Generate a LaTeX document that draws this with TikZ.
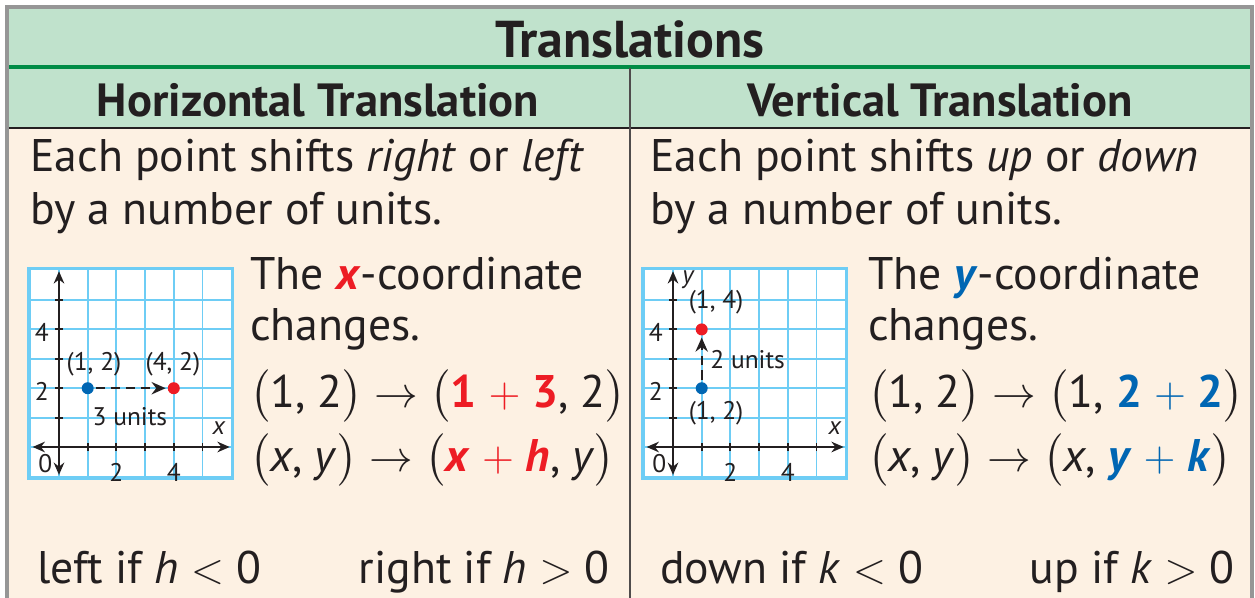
\documentclass[tikz,border=0pt]{standalone}
\usepackage{amsmath}
\usepackage{fontspec}
\setmainfont{PT Sans}
\usepackage{tikz}
\usetikzlibrary{arrows.meta}
\definecolor{headgreen}{RGB}{192, 226, 204}
\definecolor{rulegreen}{RGB}{0, 140, 70}
\definecolor{bodypeach}{RGB}{253, 241, 227}
\definecolor{gridblue}{RGB}{110, 205, 245}
\definecolor{inkdark}{RGB}{35, 31, 32}
\definecolor{shiftred}{RGB}{237, 28, 36}
\definecolor{shiftblue}{RGB}{0, 102, 179}
\definecolor{framegray}{RGB}{150, 150, 150}

\tikzset{
  headtext/.style={inner sep=0pt, text=inkdark, font=\bfseries\fontsize{26.5}{30}\selectfont},
  bodytext/.style={anchor=base west, inner sep=0pt, text=inkdark, font=\fontsize{26}{30}\selectfont},
  ticklabel/.style={inner sep=0pt, text=inkdark, font=\fontsize{14.5}{17}\selectfont},
  axislabel/.style={ticklabel, font=\itshape\fontsize{14.5}{17}\selectfont},
  gridline/.style={gridblue, line width=1.1pt},
  gridframe/.style={gridblue, line width=2pt},
  axisline/.style={inkdark, line width=1.3pt, {Stealth[length=7pt,width=6pt]}-{Stealth[length=7pt,width=6pt]}},
  shiftarrow/.style={inkdark, line width=1.3pt, dash pattern=on 5.5pt off 3pt, -{Stealth[length=8pt,width=7pt]}, shorten <=1pt, shorten >=1pt},
  dot/.style={circle, inner sep=0pt, minimum size=0.24cm, fill=#1}
}

\begin{document}
\begin{tikzpicture}[x=0.02cm, y=-0.02cm]
  \useasboundingbox (0,0) rectangle (1255,598);
  % table background and rules
  \fill[headgreen] (7,7) rectangle (1252,128);
  \fill[bodypeach] (7,128) rectangle (1252,598);
  \draw[rulegreen, line width=1.8pt] (7,67) -- (1252,67);
  \draw[inkdark, line width=1.6pt] (7,128) -- (1252,128);
  \draw[inkdark!80, line width=1.1pt] (630,68) -- (630,598);
  \draw[framegray, line width=1.8pt] (7,598) -- (7,7) -- (1252,7) -- (1252,598);

  % headings
  \node[headtext, font=\bfseries\fontsize{29.5}{33}\selectfont] (title) at (630,39) {Translations};
  \node[headtext] (hhead) at (318,100) {Horizontal Translation};
  \node[headtext] (vhead) at (940,100) {Vertical Translation};

  % horizontal column
  \node[bodytext] (hsay1) at (30,172) {Each point shifts \textit{right} or \textit{left}};
  \node[bodytext] (hsay2) at (30,224) {by a number of units.};
  \node[bodytext] (hnote1) at (250,289) {The \textcolor{shiftred}{\textbf{\textit{x}}}-coordinate};
  \node[bodytext] (hnote2) at (250,340) {changes.};
  \node[bodytext] (hrule1) at (250,407)
    {$\bigl($1, 2$\bigr)$ $\rightarrow$ $\bigl($\textcolor{shiftred}{\textbf{1} $+$ \textbf{3}}, 2$\bigr)$};
  \node[bodytext] (hrule2) at (250,471)
    {$\bigl($\textit{x}, \textit{y}$\bigr)$ $\rightarrow$ $\bigl($\textcolor{shiftred}{\textbf{\textit{x}} $+$ \textbf{\textit{h}}}, \textit{y}$\bigr)$};
  \node[bodytext] (hleft) at (37,583) {left if \textit{h} $<$ 0};
  \node[bodytext, anchor=base east] (hright) at (610,583) {right if \textit{h} $>$ 0};

  % vertical column
  \node[bodytext] (vsay1) at (650,172) {Each point shifts \textit{up} or \textit{down}};
  \node[bodytext] (vsay2) at (650,224) {by a number of units.};
  \node[bodytext] (vnote1) at (868,289) {The \textcolor{shiftblue}{\textbf{\textit{y}}}-coordinate};
  \node[bodytext] (vnote2) at (868,340) {changes.};
  \node[bodytext] (vrule1) at (868,407)
    {$\bigl($1, 2$\bigr)$ $\rightarrow$ $\bigl($1, \textcolor{shiftblue}{\textbf{2} $+$ \textbf{2}}$\bigr)$};
  \node[bodytext] (vrule2) at (868,471)
    {$\bigl($\textit{x}, \textit{y}$\bigr)$ $\rightarrow$ $\bigl($\textit{x}, \textcolor{shiftblue}{\textbf{\textit{y}} $+$ \textbf{\textit{k}}}$\bigr)$};
  \node[bodytext] (vdown) at (660,583) {down if \textit{k} $<$ 0};
  \node[bodytext, anchor=base east] (vup) at (1235,583) {up if \textit{k} $>$ 0};

  % graph of the horizontal shift
  \begin{scope}[shift={(59,447)}, x=0.574cm, y=0.588cm]
    \fill[white] (-1.05,-1.05) rectangle (6.05,6.08);
    \foreach \i in {0,...,5} \draw[gridline] (\i,-1.05) -- (\i,6.08);
    \foreach \i in {0,...,5} \draw[gridline] (-1.05,\i) -- (6.05,\i);
    \draw[gridframe] (-1.05,-1.05) rectangle (6.05,6.08);
    \draw[axisline] (-0.92,0) -- (5.95,0);
    \draw[axisline] (0,-0.95) -- (0,5.98);
    \foreach \i in {1,...,5} {
      \draw[inkdark, line width=1.1pt] (\i,-0.13) -- (\i,0.13);
      \draw[inkdark, line width=1.1pt] (-0.13,\i) -- (0.13,\i);
    }
    \node[ticklabel] (ha4) at (-0.6,3.9) {4};
    \node[ticklabel] (ha2) at (-0.6,1.9) {2};
    \node[ticklabel] (ha0) at (-0.48,-0.55) {0};
    \node[ticklabel] (hb2) at (2,-0.85) {2};
    \node[ticklabel] (hb4) at (4,-0.85) {4};
    \node[axislabel] (hx) at (5.57,0.65) {x};
    \node[dot=shiftblue] (hp12) at (1,2) {};
    \node[dot=shiftred] (hp42) at (4,2) {};
    \node[ticklabel] (hp12lab) at (1.22,2.8) {(1, 2)};
    \node[ticklabel] (hp42lab) at (3.97,2.8) {(4, 2)};
    \node[ticklabel] (hunits) at (2.47,1.05) {3 units};
    \draw[shiftarrow] (hp12) -- (hp42);
  \end{scope}

  % graph of the vertical shift
  \begin{scope}[shift={(673,447)}, x=0.574cm, y=0.588cm]
    \fill[white] (-1.05,-1.05) rectangle (6.05,6.08);
    \foreach \i in {0,...,5} \draw[gridline] (\i,-1.05) -- (\i,6.08);
    \foreach \i in {0,...,5} \draw[gridline] (-1.05,\i) -- (6.05,\i);
    \draw[gridframe] (-1.05,-1.05) rectangle (6.05,6.08);
    \draw[axisline] (-0.92,0) -- (5.95,0);
    \draw[axisline] (0,-0.95) -- (0,5.98);
    \foreach \i in {1,...,5} {
      \draw[inkdark, line width=1.1pt] (\i,-0.13) -- (\i,0.13);
      \draw[inkdark, line width=1.1pt] (-0.13,\i) -- (0.13,\i);
    }
    \node[ticklabel] (va4) at (-0.6,3.9) {4};
    \node[ticklabel] (va2) at (-0.6,1.9) {2};
    \node[ticklabel] (va0) at (-0.48,-0.55) {0};
    \node[ticklabel] (vb2) at (2,-0.85) {2};
    \node[ticklabel] (vb4) at (4,-0.85) {4};
    \node[axislabel] (vx) at (5.64,0.65) {x};
    \node[axislabel] (vy) at (0.52,5.7) {y};
    \node[dot=shiftblue] (vp12) at (1,2) {};
    \node[dot=shiftred] (vp14) at (1,4) {};
    \node[ticklabel] (vp14lab) at (1.5,4.93) {(1, 4)};
    \node[ticklabel] (vp12lab) at (1.5,1.16) {(1, 2)};
    \node[ticklabel] (vunits) at (2.6,2.96) {2 units};
    \draw[shiftarrow] (vp12) -- (vp14);
  \end{scope}
\end{tikzpicture}
\end{document}
